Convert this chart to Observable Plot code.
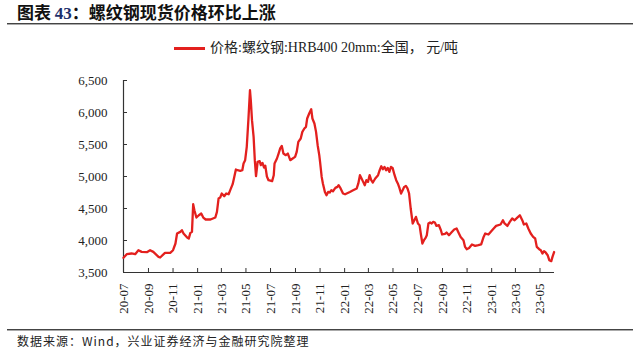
<!DOCTYPE html>
<html>
<head>
<meta charset="utf-8">
<script src="https://cdn.jsdelivr.net/npm/d3@7"></script>
<script src="https://cdn.jsdelivr.net/npm/@observablehq/plot@0.6"></script>
<style>
  html, body { margin: 0; padding: 0; background: #fff; }
  #wrap { position: relative; width: 640px; height: 356px; overflow: hidden; }
  #title { position: absolute; left: 17px; top: 2px; font-family: "Noto Sans CJK SC", sans-serif; font-weight: bold; font-size: 17px; line-height: 20px; color: #111; white-space: nowrap; }
  #title .num { font-family: "Liberation Serif", serif; color: #1c2f6b; }
  #tline { position: absolute; left: 7px; width: 626px; top: 23px; height: 1px; background: #444; box-shadow: 0 1px 0 #aaa; }
  #legend { position: absolute; left: 174px; top: 38px; height: 20px; white-space: nowrap; }
  #legend .sw { position: absolute; left: 0; top: 9px; width: 31px; height: 2.5px; background: #e3201e; }
  #legend .tx { position: absolute; left: 36px; top: 0; font-family: "Liberation Serif", "Noto Sans CJK SC", serif; font-size: 14px; line-height: 20px; color: #222; }
  #chart { position: absolute; left: 0; top: 62px; }
  #fline { position: absolute; left: 7px; width: 626px; top: 329px; height: 1px; background: #444; box-shadow: 0 1px 0 #aaa; }
  #footer { position: absolute; left: 17px; top: 333px; font-family: "Noto Sans CJK SC", sans-serif; font-size: 12px; line-height: 16px; letter-spacing: 1px; color: #222; white-space: nowrap; }
</style>
</head>
<body>
<div id="wrap">
  <div id="title">图表 <span class="num">43</span>：螺纹钢现货价格环比上涨</div>
  <div id="tline"></div>
  <div id="legend"><div class="sw"></div><div class="tx" id="legendText"></div></div>
  <div id="chart"></div>
  <div id="fline"></div>
  <div id="footer">数据来源：Wind，兴业证券经济与金融研究院整理</div>
</div>
<script>
const seriesName = "价格:螺纹钢:HRB400 20mm:全国， 元/吨";

const priceDates = [
"2020-07-01","2020-07-09","2020-07-21","2020-07-30","2020-08-07","2020-08-15","2020-08-28","2020-09-05","2020-09-13","2020-09-26","2020-09-30","2020-10-12","2020-10-25","2020-11-01","2020-11-07","2020-11-11","2020-11-19","2020-11-23","2020-11-27","2020-12-06","2020-12-10","2020-12-14","2020-12-18","2020-12-21","2020-12-24","2020-12-29",
"2021-01-04","2021-01-10","2021-01-15","2021-01-21","2021-02-02","2021-02-14","2021-02-18","2021-02-22","2021-02-26","2021-03-02","2021-03-08","2021-03-13","2021-03-19","2021-03-23","2021-03-29","2021-04-02","2021-04-06","2021-04-10","2021-04-17","2021-04-22","2021-04-25","2021-04-29","2021-05-03","2021-05-07","2021-05-11","2021-05-13","2021-05-16","2021-05-20","2021-05-23","2021-05-26","2021-05-30","2021-06-04","2021-06-07","2021-06-11","2021-06-15","2021-06-18","2021-06-22","2021-06-26",
"2021-07-05","2021-07-09","2021-07-11","2021-07-17","2021-07-21","2021-07-25","2021-07-29","2021-08-02","2021-08-08","2021-08-13","2021-08-19","2021-08-25","2021-08-31","2021-09-04","2021-09-08","2021-09-14","2021-09-18","2021-09-23","2021-09-27","2021-09-30","2021-10-05","2021-10-10","2021-10-13","2021-10-18","2021-10-22","2021-10-26","2021-10-30","2021-11-01","2021-11-05","2021-11-08","2021-11-13","2021-11-17","2021-11-21","2021-11-25","2021-11-29","2021-12-03","2021-12-09","2021-12-14","2021-12-17","2021-12-22","2021-12-28",
"2022-01-02","2022-01-14","2022-01-22","2022-01-31","2022-02-04","2022-02-08","2022-02-12","2022-02-16","2022-02-20","2022-02-24","2022-02-28","2022-03-04","2022-03-08","2022-03-12","2022-03-18","2022-03-25","2022-03-29","2022-04-02","2022-04-06","2022-04-10","2022-04-14","2022-04-18","2022-04-22","2022-04-26","2022-04-30","2022-05-05","2022-05-09","2022-05-13","2022-05-17","2022-05-21","2022-05-25","2022-05-29","2022-06-02","2022-06-06","2022-06-10","2022-06-14","2022-06-19","2022-06-23","2022-06-27",
"2022-07-02","2022-07-06","2022-07-09","2022-07-13","2022-07-17","2022-07-21","2022-07-24","2022-07-28","2022-08-01","2022-08-05","2022-08-09","2022-08-13","2022-08-17","2022-08-23","2022-08-28","2022-08-31","2022-09-07","2022-09-11","2022-09-17","2022-09-23","2022-09-30","2022-10-06","2022-10-10","2022-10-16","2022-10-23","2022-10-27","2022-10-31","2022-11-06","2022-11-13","2022-11-21","2022-11-29","2022-12-06","2022-12-12","2022-12-16","2022-12-24","2022-12-31",
"2023-01-06","2023-01-12","2023-01-23","2023-01-29","2023-02-02","2023-02-09","2023-02-15","2023-02-21","2023-02-27","2023-03-05","2023-03-12","2023-03-18","2023-03-22","2023-03-28","2023-04-02","2023-04-08","2023-04-14","2023-04-19","2023-04-23","2023-04-29","2023-05-03","2023-05-07","2023-05-11","2023-05-15","2023-05-20","2023-05-24","2023-05-29","2023-06-01","2023-06-05"
];

const priceValues = [
3730,3786,3797,3786,3848,3822,3817,3848,3822,3744,3734,3807,3807,3848,3953,4109,4135,4161,4109,4046,4030,4119,4135,4567,4473,4359,
4395,4421,4359,4328,4328,4359,4447,4656,4671,4734,4692,4734,4723,4786,4880,4994,5109,5098,5088,5098,5203,5255,5463,5880,6348,6192,5880,5619,5255,5005,5229,5239,5177,5213,5140,5170,5000,4942,
4927,5020,5203,5281,5359,5438,5478,5359,5333,5359,5255,5281,5306,5384,5541,5594,5697,5750,5775,5906,5984,6052,5906,5828,5697,5489,5333,5228,4994,4891,4759,4708,4759,4750,4786,4770,4822,4838,4864,4813,4734,
4723,4759,4786,4813,4891,5020,4969,4916,4864,4942,4916,5020,4942,4906,4969,5020,5098,5161,5114,5150,5098,5134,5072,5150,5134,5020,4942,4891,4822,4734,4786,4838,4853,4813,4734,4500,4266,4317,4369,
4266,4239,4109,3953,4005,4041,4083,4266,4281,4266,4291,4281,4228,4239,4161,4094,4103,4125,4083,4125,4172,4188,4134,4056,4005,3900,3864,3884,3938,3916,3927,3938,4056,4109,4094,4145,
4188,4228,4250,4317,4266,4228,4291,4344,4317,4353,4395,4317,4250,4266,4188,4109,4056,4031,3900,3864,3848,3797,3833,3813,3770,3692,3677,3744,3820
];

const xTickLabels = ["2020-07","2020-09","2020-11","2021-01","2021-03","2021-05","2021-07","2021-09","2021-11","2022-01","2022-03","2022-05","2022-07","2022-09","2022-11","2023-01","2023-03","2023-05"];
const yTicks = [3500, 4000, 4500, 5000, 5500, 6000, 6500];
const xDomain = ["2020-07-01", "2023-06-06"];

document.getElementById("legendText").textContent = seriesName;

const parse = d3.utcParse("%Y-%m-%d");
const data = priceDates.map((d, i) => ({date: parse(d), value: priceValues[i]}));
const xTicks = xTickLabels.map(s => parse(s + "-01"));

const W = 640, H = 260, ML = 123, MR = 86, MT = 18, MB = 50;
const plotW = W - ML - MR, plotH = H - MT - MB;
const axisColor = "#333";
const serif = "'Liberation Serif', 'Times New Roman', serif";

const chart = Plot.plot({
  width: W,
  height: H,
  marginLeft: ML,
  marginRight: MR,
  marginTop: MT,
  marginBottom: MB,
  style: {fontFamily: serif, fontSize: "13px", color: "#222", background: "transparent"},
  x: {type: "utc", domain: xDomain.map(parse)},
  y: {domain: [3500, 6500]},
  marks: [
    Plot.axisY({ticks: yTicks, tickFormat: d3.format(","), tickSize: 0, tickPadding: 16, label: null, fontSize: 13}),
    Plot.axisX({ticks: xTicks, tickFormat: d3.utcFormat("%y-%m"), tickRotate: -90, tickSize: 0, tickPadding: 11, label: null, fontSize: 13}),
    Plot.tickY(yTicks, {y: d => d, stroke: axisColor, insetRight: plotW - 4}),
    Plot.tickX(xTicks, {x: d => d, stroke: axisColor, insetTop: plotH - 4}),
    Plot.ruleX([parse(xDomain[0])], {stroke: axisColor, strokeWidth: 1.2}),
    Plot.ruleY([3500], {stroke: axisColor, strokeWidth: 1.2}),
    Plot.lineY(data, {x: "date", y: "value", stroke: "#e3201e", strokeWidth: 2.3, strokeLinejoin: "round"})
  ]
});
document.getElementById("chart").appendChild(chart);
</script>
</body>
</html>
